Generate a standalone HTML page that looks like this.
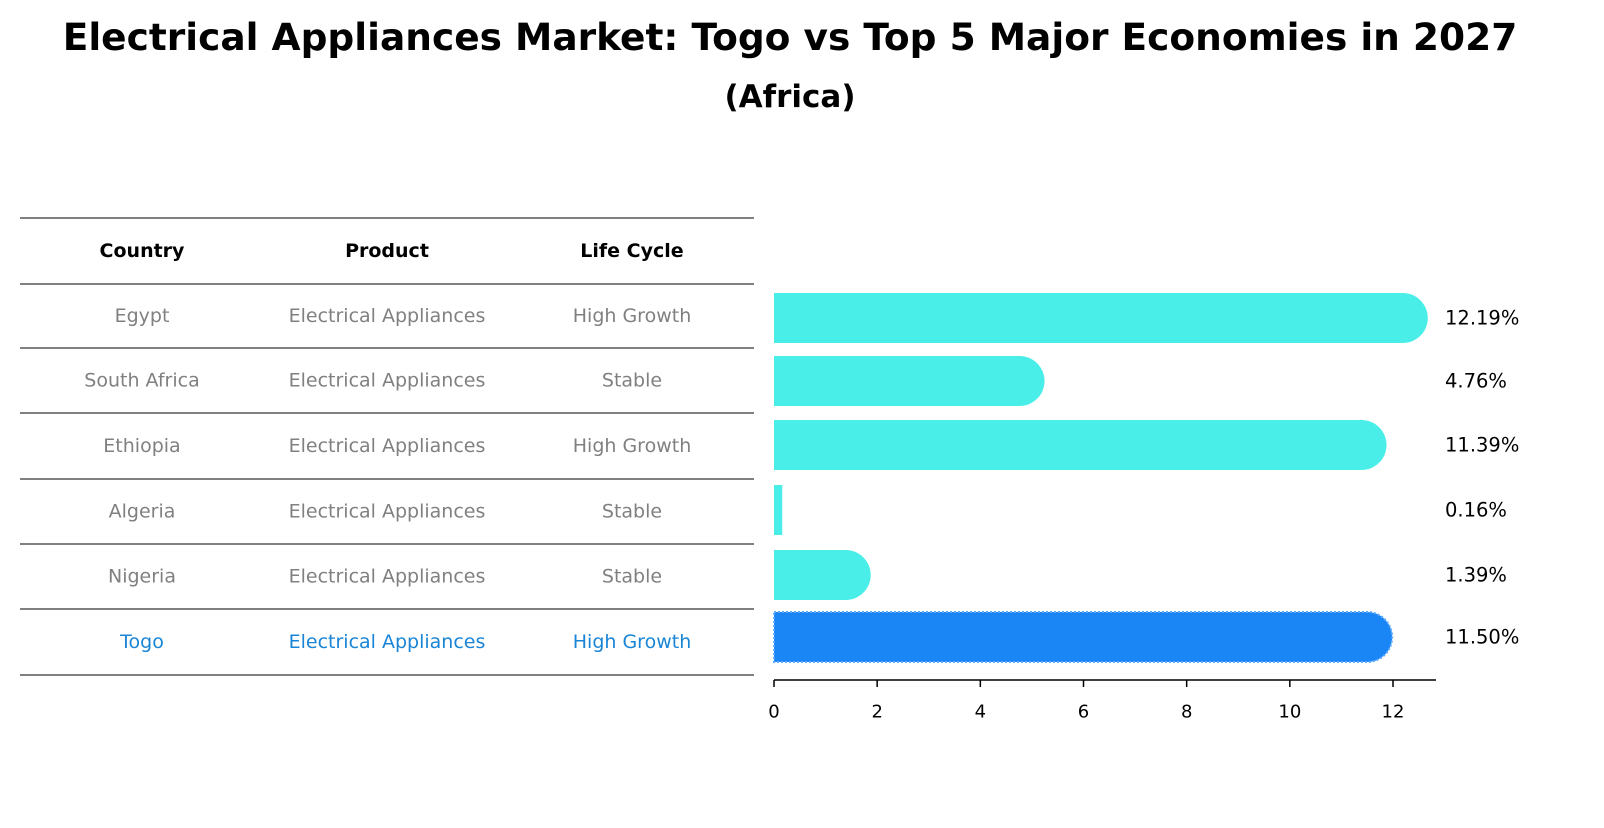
<!DOCTYPE html>
<html><head><meta charset="utf-8"><style>
body{margin:0;background:#fff;font-family:"Liberation Sans","DejaVu Sans",sans-serif;}
</style></head><body>
<svg width="1604" height="823" viewBox="0 0 1604 823" xmlns="http://www.w3.org/2000/svg" font-family="DejaVu Sans, Liberation Sans, sans-serif">
<text x="790" y="37" dominant-baseline="central" text-anchor="middle" font-size="37.5" font-weight="bold">Electrical Appliances Market: Togo vs Top 5 Major Economies in 2027</text>
<text x="790" y="97" dominant-baseline="central" text-anchor="middle" font-size="31" font-weight="bold">(Africa)</text>
<g id="table"></g>
<g id="bars"></g>
</svg>
<script>
const countries=["Egypt","South Africa","Ethiopia","Algeria","Nigeria","Togo"];
const products=["Electrical Appliances","Electrical Appliances","Electrical Appliances","Electrical Appliances","Electrical Appliances","Electrical Appliances"];
const lifecycles=["High Growth","Stable","High Growth","Stable","Stable","High Growth"];
const values=[12.19,4.76,11.39,0.16,1.39,11.50];
const ticks=[0,2,4,6,8,10,12];
const NS="http://www.w3.org/2000/svg";
function mk(tag,attrs,parent,txt){const e=document.createElementNS(NS,tag);for(const k in attrs)e.setAttribute(k,attrs[k]);if(txt!==undefined)e.textContent=txt;parent.appendChild(e);return e;}
const T=document.getElementById('table');
const lineY=[218,284,348,413,479,544,609,675];
lineY.forEach((y,i)=>{const l=mk('line',{x1:20,x2:754,y1:y,y2:y,stroke:'#000','stroke-width':1},T);

});
const colX=[142,387,632];
["Country","Product","Life Cycle"].forEach((h,i)=>{const t=mk('text',{x:colX[i],y:251,'dominant-baseline':'central','text-anchor':'middle','font-size':19,'font-weight':'bold'},T,h);

});
countries.forEach((c,r)=>{const y=(lineY[r+1]+lineY[r+2])/2;const col=c==="Togo"?"#1a85d6":"#808080";
[c,products[r],lifecycles[r]].forEach((v,i)=>{const t=mk('text',{x:colX[i],y:y,'dominant-baseline':'central','text-anchor':'middle','font-size':19,fill:col},T,v);

});});
const B=document.getElementById('bars');
const x0=774,ppu=(1393-774)/12;
const xs=v=>x0+v*ppu;
const centers=[318,381,445,510,575,637];
const h=50,rad=25;
values.forEach((v,i)=>{const cy=centers[i];const togo=countries[i]==="Togo";const fill=togo?"#1a85f5":"#4aeee9";
const g=mk('g',{},B);


const xe=xs(v);
let d;
if(v>=1){d=`M${x0},${cy-h/2} L${xe},${cy-h/2} A${rad},${rad} 0 0 1 ${xe},${cy+h/2} L${x0},${cy+h/2} Z`;}
else{d=`M${x0},${cy-h/2} L${Math.max(xe,x0+2)},${cy-h/2} L${Math.max(xe,x0+2)},${cy+h/2} L${x0},${cy+h/2} Z`;}
mk('path',{d:d,fill:fill,stroke:togo?"#5aaaff":"none",'stroke-dasharray':togo?"2,2":"none",'stroke-width':togo?2:0},g);
const t=mk('text',{x:1445,y:cy,'dominant-baseline':'central','font-size':19.5},B,v.toFixed(2)+"%");

});
const ax=mk('line',{x1:x0,x2:1436,y1:680,y2:680,stroke:'#000','stroke-width':1.5},B);


ticks.forEach(tk=>{const tl=mk('line',{x1:xs(tk),x2:xs(tk),y1:680,y2:687,stroke:'#000','stroke-width':1.5},B);


const t=mk('text',{x:xs(tk),y:712,'dominant-baseline':'central','text-anchor':'middle','font-size':18},B,String(tk));

});
</script>
</body></html>
